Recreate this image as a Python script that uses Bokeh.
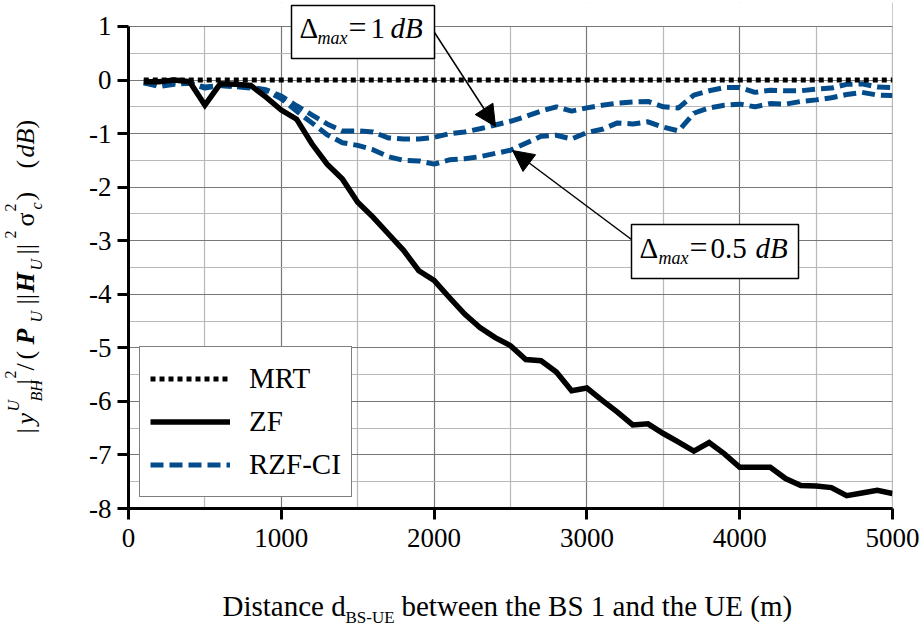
import math
from bokeh.plotting import figure
from bokeh.layouts import row, column
from bokeh.models import (Range1d, FixedTicker, Label, BoxAnnotation, Arrow,
                          NormalHead, Legend, LegendItem, Span)
from bokeh.embed import file_html
from bokeh.resources import INLINE

# ---------------- data ----------------
distance_m = [100, 200, 300, 400, 500, 600, 700, 800, 900, 1000,
              1100, 1200, 1300, 1400, 1500, 1600, 1700, 1800, 1900, 2000,
              2100, 2200, 2300, 2400, 2500, 2600, 2700, 2800, 2900, 3000,
              3100, 3200, 3300, 3400, 3500, 3600, 3700, 3800, 3900, 4000,
              4100, 4200, 4300, 4400, 4500, 4600, 4700, 4800, 4900, 5000]

mrt_db = [0.0, 0.0, 0.0, 0.0, 0.0, 0.0, 0.0, 0.0, 0.0, 0.0,
          0.0, 0.0, 0.0, 0.0, 0.0, 0.0, 0.0, 0.0, 0.0, 0.0,
          0.0, 0.0, 0.0, 0.0, 0.0, 0.0, 0.0, 0.0, 0.0, 0.0,
          0.0, 0.0, 0.0, 0.0, 0.0, 0.0, 0.0, 0.0, 0.0, 0.0,
          0.0, 0.0, 0.0, 0.0, 0.0, 0.0, 0.0, 0.0, 0.0, 0.0]

zf_db = [-0.03, -0.03, 0.0, -0.03, -0.47, -0.07, -0.08, -0.10, -0.32, -0.56,
         -0.73, -1.19, -1.57, -1.85, -2.28, -2.56, -2.87, -3.18, -3.56, -3.74,
         -4.06, -4.37, -4.62, -4.81, -4.96, -5.22, -5.24, -5.45, -5.80, -5.75,
         -5.98, -6.20, -6.44, -6.42, -6.60, -6.76, -6.93, -6.77, -6.98, -7.23,
         -7.23, -7.23, -7.44, -7.57, -7.58, -7.61, -7.76, -7.71, -7.66, -7.72]

rzf_1db = [-0.05, -0.08, -0.05, -0.06, -0.13, -0.10, -0.12, -0.13, -0.18, -0.30,
           -0.48, -0.65, -0.82, -0.95, -0.95, -0.97, -1.08, -1.10, -1.10, -1.07,
           -1.00, -0.97, -0.91, -0.84, -0.77, -0.68, -0.58, -0.50, -0.58, -0.52,
           -0.47, -0.43, -0.41, -0.40, -0.50, -0.52, -0.28, -0.20, -0.14, -0.14,
           -0.23, -0.19, -0.20, -0.20, -0.17, -0.15, -0.08, -0.07, -0.13, -0.14]

rzf_05db = [-0.05, -0.12, -0.08, -0.06, -0.15, -0.10, -0.12, -0.15, -0.20, -0.35,
            -0.58, -0.80, -1.02, -1.17, -1.22, -1.30, -1.43, -1.50, -1.51, -1.57,
            -1.49, -1.47, -1.43, -1.37, -1.31, -1.18, -1.05, -1.03, -1.10, -0.98,
            -0.92, -0.80, -0.82, -0.78, -0.88, -0.95, -0.62, -0.52, -0.47, -0.45,
            -0.50, -0.44, -0.45, -0.40, -0.37, -0.33, -0.27, -0.23, -0.28, -0.29]

x_ticks = [0, 1000, 2000, 3000, 4000, 5000]
x_minor = [500, 1500, 2500, 3500, 4500]
y_ticks = [-8, -7, -6, -5, -4, -3, -2, -1, 0, 1]
y_minor = [-7.5, -6.5, -5.5, -4.5, -3.5, -2.5, -1.5, -0.5, 0.5]

series_names = ["MRT", "ZF", "RZF-CI"]

# ---------------- styling constants ----------------
FONT = "'Liberation Serif', 'Times New Roman', serif"
BLUE = "#034C8C"
YW = 70            # width of the y-label strip
MW, MH = 850, 570  # main figure size
XH = 59            # height of the x-label strip
FL, FB, FT = 128.0, 508.0, 2   # page position of frame left / bottom / top
Y_TOP = 1.448      # headroom above y=1 so the top callout is not clipped
BSHIFT = 0.35      # em offset between requested and drawn text baseline

# ---------------- main figure ----------------
p = figure(width=MW, height=MH, title=None,
           x_range=Range1d(0, 5000), y_range=Range1d(-8, Y_TOP),
           output_backend="svg", toolbar_location=None,
           min_border_left=int(FL - YW), min_border_right=28,
           min_border_top=FT, min_border_bottom=int(MH - FB))

p.outline_line_color = None
p.background_fill_color = "white"
p.border_fill_color = "white"

xt = FixedTicker(ticks=x_ticks, minor_ticks=x_minor)
yt = FixedTicker(ticks=y_ticks, minor_ticks=y_minor)
p.xaxis.ticker = xt
p.yaxis.ticker = yt
p.xgrid.ticker = xt
p.ygrid.ticker = yt
p.yaxis.bounds = (-8, 1)
p.yaxis.major_label_overrides = {t: str(t) for t in y_ticks}

for g in (p.xgrid, p.ygrid):
    g.grid_line_color = "#777777"
    g.grid_line_width = 1.2
    g.minor_grid_line_color = "#b8b8b8"
    g.minor_grid_line_width = 1.2

for ax in (p.xaxis, p.yaxis):
    ax.axis_line_color = "black"
    ax.axis_line_width = 3
    ax.major_tick_line_color = "black"
    ax.major_tick_line_width = 3
    ax.major_tick_out = 11
    ax.major_tick_in = 0
    ax.minor_tick_out = 0
    ax.minor_tick_in = 0
    ax.major_label_text_font = FONT
    ax.major_label_text_font_size = "27px"
    ax.major_label_text_color = "black"

p.yaxis.major_label_standoff = 6
p.xaxis.major_label_standoff = 9

# right frame edge (x = 5000), then white cover over the headroom above y = 1
p.add_layout(Span(location=x_ticks[-1], dimension="height", line_color="#777777",
                  line_width=1.2, level="underlay"))
p.add_layout(BoxAnnotation(bottom=1.011, top=Y_TOP + 0.1, fill_color="white",
                           fill_alpha=1.0, line_color=None, level="underlay"))

# ---------------- lines ----------------
r_rzf2 = p.line(distance_m, rzf_05db, line_color=BLUE, line_width=5,
                line_dash="13 6")
r_rzf1 = p.line(distance_m, rzf_1db, line_color=BLUE, line_width=5,
                line_dash="13 6")
r_zf = p.line(distance_m, zf_db, line_color="black", line_width=5.5,
              line_join="miter")
r_mrt = p.line(distance_m, mrt_db, line_color="black", line_width=5,
               line_dash="5 4")

legend = Legend(items=[LegendItem(label=series_names[0], renderers=[r_mrt]),
                       LegendItem(label=series_names[1], renderers=[r_zf]),
                       LegendItem(label=series_names[2], renderers=[r_rzf1])],
                location="bottom_left", margin=11, padding=10, spacing=0,
                glyph_width=80, glyph_height=43, label_standoff=19,
                label_text_font=FONT, label_text_font_size="29px",
                label_text_color="black",
                border_line_color="black", border_line_width=1.5,
                background_fill_color="white", background_fill_alpha=1.0)
p.add_layout(legend)


def lab_main(text, px, py, size, style="normal"):
    by = py - BSHIFT * size
    p.add_layout(Label(x=px - FL, y=FB - by, x_units="screen", y_units="screen",
                       text=text, text_font=FONT, text_font_size=f"{size}px",
                       text_font_style=style, text_color="black",
                       text_align="left", text_baseline="alphabetic"))


def box(left, right, top, bottom):
    p.add_layout(BoxAnnotation(left=left - FL, right=right - FL,
                               top=FB - top, bottom=FB - bottom,
                               left_units="screen", right_units="screen",
                               top_units="screen", bottom_units="screen",
                               fill_color="white", fill_alpha=1.0,
                               line_color="black", line_width=1.5,
                               line_alpha=1.0))


def arrow(x0, y0, x1, y1):
    p.add_layout(Arrow(end=NormalHead(size=21, fill_color="black",
                                      line_color="black", line_width=1),
                       x_start=x0 - FL, y_start=FB - y0,
                       x_end=x1 - FL, y_end=FB - y1,
                       start_units="screen", end_units="screen",
                       line_color="black", line_width=1.5))


arrow(434, 32, 495, 126)
arrow(631, 239, 512, 150)

box(291, 434, 5, 58)
lab_main("Δ", 299, 38, 29)
lab_main("max", 317, 44, 18, "italic")
lab_main("=", 348, 38, 32)
lab_main("1", 370, 38, 29)
lab_main("dB", 390, 38, 29, "italic")

box(631, 798, 224, 278)
lab_main("Δ", 639, 258, 29)
lab_main("max", 658, 264, 18, "italic")
lab_main("=", 689, 258, 32)
lab_main("0.5", 710, 258, 29)
lab_main("dB", 755, 258, 29, "italic")


# ---------------- label strips (data units == page pixels) ----------------
def strip(w, h, x_rng, y_rng):
    f = figure(width=w, height=h, title=None, x_range=x_rng, y_range=y_rng,
               x_axis_type=None, y_axis_type=None,
               output_backend="svg", toolbar_location=None,
               min_border=0, min_border_left=0, min_border_right=0,
               min_border_top=0, min_border_bottom=0)
    f.outline_line_color = None
    f.background_fill_color = "white"
    f.border_fill_color = "white"
    return f


def lab(f, text, px, py, size, style="normal", rotated=False):
    if rotated:
        x, y, ang = px - BSHIFT * size, py, math.pi / 2
    else:
        x, y, ang = px, py - BSHIFT * size, 0.0
    f.add_layout(Label(x=x, y=y, text=text, angle=ang, text_font=FONT,
                       text_font_size=f"{size}px", text_font_style=style,
                       text_color="black", text_align="left",
                       text_baseline="alphabetic"))


# the strip's frame is aligned with the main frame (page y FT..FB)
ylab = strip(YW, MH, Range1d(0, YW), Range1d(FB, FT))
MB, SUB, SUP = 34, 42, 16
ylab_parts = [("|", MB, 433, 26, "normal"), ("y", MB, 424, 26, "italic"),
              ("U", 19, 411, 16, "italic"), ("BH", SUB, 401, 16, "italic"),
              ("|", MB, 384, 26, "normal"), ("2", SUP, 378, 16, "normal"),
              ("/", MB, 370, 26, "normal"), ("(", MB, 359, 26, "normal"),
              ("P", MB, 344, 26, "bold italic"), ("U", SUB, 322, 16, "italic"),
              ("||", MB, 304, 26, "normal"), ("H", MB, 292, 26, "bold italic"),
              ("U", SUB, 270, 16, "italic"), ("||", MB, 254, 26, "normal"),
              ("2", SUP, 238, 16, "normal"), ("σ", MB, 226, 26, "normal"),
              ("2", SUP, 211, 16, "normal"), ("c", SUB, 209, 16, "italic"),
              (")", MB, 200, 26, "normal"), ("(", MB, 168, 26, "normal"),
              ("dB", MB, 157, 26, "italic"), (")", MB, 128, 26, "normal")]
for t, bx, sy, sz, st in ylab_parts:
    lab(ylab, t, bx, sy, sz, st, rotated=True)

xlab = strip(YW + MW, XH, Range1d(0, YW + MW), Range1d(MH + XH, MH))
lab(xlab, "Distance d", 222, 616, 29)
lab(xlab, "BS-UE", 345, 623, 17)
lab(xlab, "between the BS 1 and the UE (m)", 401, 616, 29)

layout = column(row(ylab, p), xlab)
open("out.html", "w").write(file_html(layout, INLINE))
